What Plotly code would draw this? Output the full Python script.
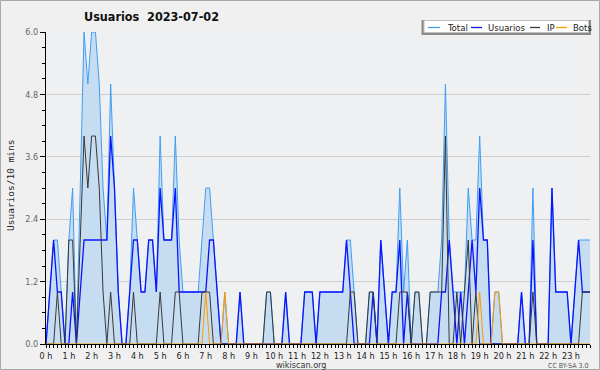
import plotly.graph_objects as go

# ---- data (10-minute slots, 144 per day) ----
total = [0,1,2,2,1,0,2,3,0,3,6,5,
         6,6,5,3,2,5,3,1,0,0,1,3,
         2,1,1,2,2,1,4,2,2,2,4,2,
         1,1,1,1,1,2,3,3,2,1,0,1,
         0,0,0,1,0,0,0,0,0,0,1,1,
         0,0,0,1,0,0,0,0,1,1,1,0,
         1,1,1,1,1,1,1,2,2,1,0,0,
         0,1,1,0,2,1,0,1,1,3,1,2,
         0,1,1,0,0,1,1,1,2,5,2,1,
         1,1,1,3,2,2,4,2,2,0,1,1,
         0,0,0,0,0,1,0,0,3,0,0,0,
         0,3,1,1,1,1,0,1,2,2,2,2]
usuarios = [0,1,2,1,1,0,0,1,0,1,2,2,
            2,2,2,2,2,4,3,1,0,0,1,2,
            2,1,1,2,2,1,3,2,2,2,3,1,
            1,1,1,1,1,1,1,2,2,1,0,0,
            0,0,0,1,0,0,0,0,0,0,0,0,
            0,0,0,1,0,0,0,0,1,1,1,0,
            1,1,1,1,1,1,1,2,1,0,0,0,
            0,0,1,0,2,1,0,1,1,2,0,1,
            0,0,0,0,0,0,0,0,1,1,2,1,
            0,1,0,1,2,1,3,2,2,0,0,0,
            0,0,0,0,0,1,0,0,2,0,0,0,
            0,3,1,1,1,1,0,1,2,1,1,1]
ip = [0,0,0,1,0,0,2,2,0,2,4,3,
      4,4,3,1,0,1,0,0,0,0,0,1,
      0,0,0,0,0,0,1,0,0,0,1,1,
      0,0,0,0,0,1,1,1,0,0,0,0,
      0,0,0,0,0,0,0,0,0,0,1,1,
      0,0,0,0,0,0,0,0,0,0,0,0,
      0,0,0,0,0,0,0,0,1,1,0,0,
      0,1,1,0,0,0,0,0,0,1,1,1,
      0,1,1,0,0,1,1,1,1,4,0,0,
      1,0,1,2,0,1,0,0,0,0,0,0,
      0,0,0,0,0,0,0,0,1,0,0,0,
      0,0,0,0,0,0,0,0,0,1,1,1]
bots = [0,0,0,0,0,0,0,0,0,0,0,0,
        0,0,0,0,0,0,0,0,0,0,0,0,
        0,0,0,0,0,0,0,0,0,0,0,0,
        0,0,0,0,0,0,1,0,0,0,0,1,
        0,0,0,0,0,0,0,0,0,0,0,0,
        0,0,0,0,0,0,0,0,0,0,0,0,
        0,0,0,0,0,0,0,0,0,0,0,0,
        0,0,0,0,0,0,0,0,0,0,0,0,
        0,0,0,0,0,0,0,0,0,0,0,0,
        0,0,0,0,0,0,1,0,0,0,1,1,
        0,0,0,0,0,0,0,0,0,0,0,0,
        0,0,0,0,0,0,0,0,0,0,0,0]
hour_labels = ["0 h","1 h","2 h","3 h","4 h","5 h","6 h","7 h","8 h","9 h","10 h","11 h",
               "12 h","13 h","14 h","15 h","16 h","17 h","18 h","19 h","20 h","21 h","22 h","23 h"]
series_names = ["Total", "Usuarios", "IP", "Bots"]
series_colors = ["#3f9ef2", "#0a14ff", "#383838", "#ff9a00"]

slots = list(range(len(total)))
major = [6 * h for h in range(len(hour_labels))]
minor = [s for s in slots if s % 6 != 0]

COND = "DejaVu Sans Condensed, DejaVu Sans"
W, H = 600, 370
L, T, PW, PH = 46, 32, 544, 312
def px(x): return (x - L) / PW
def py(y): return (T + PH - y) / PH

fig = go.Figure()
fig.add_trace(go.Scatter(x=slots, y=total, mode="lines", fill="tozeroy",
                         fillcolor="#c6ddf1", line=dict(color=series_colors[0], width=1),
                         name=series_names[0]))
fig.add_trace(go.Scatter(x=slots, y=usuarios, mode="lines",
                         line=dict(color=series_colors[1], width=1.3), name=series_names[1]))
fig.add_trace(go.Scatter(x=slots, y=ip, mode="lines",
                         line=dict(color=series_colors[2], width=1), name=series_names[2]))
fig.add_trace(go.Scatter(x=slots, y=bots, mode="lines",
                         line=dict(color=series_colors[3], width=1), name=series_names[3]))

shapes = [
    dict(type="rect", xref="paper", yref="paper", x0=px(0.5), x1=px(599.5), y0=py(369.5), y1=py(0.5),
         line=dict(color="#a8a8a8", width=1), fillcolor="rgba(0,0,0,0)", layer="below"),
    dict(type="rect", xref="paper", yref="paper", x0=px(421.5), x1=px(591), y0=py(35), y1=py(20),
         line=dict(width=0), fillcolor="#8a8a8a"),
    dict(type="rect", xref="paper", yref="paper", x0=px(424), x1=px(588.5), y0=py(32.5), y1=py(20.5),
         line=dict(color="#c0c0c0", width=1), fillcolor="white"),
]
annotations = []
leg_lines = [(428, 440), (471, 482), (530, 540), (556, 567)]
leg_text_x = [445, 486, 545, 571]
for (a, b), tx, nm, col in zip(leg_lines, leg_text_x, series_names, series_colors):
    shapes.append(dict(type="line", xref="paper", yref="paper", x0=px(a), x1=px(b),
                       y0=py(27.5), y1=py(27.5), line=dict(color=col, width=1.3)))
    annotations.append(dict(text=nm, xref="paper", yref="paper", x=px(tx), y=py(27.5),
                            xanchor="left", yanchor="middle", showarrow=False,
                            font=dict(family=COND, size=9.5, color="#222")))

annotations += [
    dict(text="<b>Usuarios\u00a0 2023-07-02</b>", xref="paper", yref="paper", x=px(151.5), y=py(17),
         xanchor="center", yanchor="middle", showarrow=False,
         font=dict(family=COND, size=12.5, color="#111")),
    dict(text="Usuarios/10 mins", xref="paper", yref="paper", x=px(10), y=py(185),
         xanchor="center", yanchor="middle", textangle=-90, showarrow=False,
         font=dict(family="DejaVu Sans Mono", size=9.5, color="#222")),
    dict(text="wikiscan.org", xref="paper", yref="paper", x=px(301), y=py(364.5),
         xanchor="center", yanchor="middle", showarrow=False,
         font=dict(family=COND, size=9, color="#333")),
    dict(text="CC BY-SA 3.0", xref="paper", yref="paper", x=px(590), y=py(365.5),
         xanchor="right", yanchor="middle", showarrow=False,
         font=dict(family=COND, size=7, color="#555")),
]

fig.update_layout(
    width=W, height=H, margin=dict(l=L, r=W - L - PW, t=T, b=H - T - PH),
    paper_bgcolor="#f0f0f0", plot_bgcolor="#eef0f2", showlegend=False,
    shapes=shapes, annotations=annotations,
    xaxis=dict(range=[0, len(total) - 1], showgrid=False, zeroline=False, automargin=False,
               showline=True, linecolor="black", linewidth=1,
               tickmode="array", tickvals=major, ticktext=hour_labels,
               ticks="outside", ticklen=3, tickcolor="black", tickwidth=1,
               tickfont=dict(family=COND, size=9, color="#222"),
               minor=dict(tickmode="array", tickvals=minor, ticks="outside",
                          ticklen=3, tickcolor="black", tickwidth=1)),
    yaxis=dict(range=[0, 6], tick0=0, dtick=1.2, tickformat=".1f", zeroline=False, automargin=False,
               showgrid=True, gridcolor="#cfcfcf", gridwidth=1,
               showline=True, linecolor="black", linewidth=1,
               ticks="outside", ticklen=5, tickcolor="black",
               tickfont=dict(family=COND, size=9, color="#666"),
               minor=dict(dtick=0.3, ticks="outside", ticklen=3, tickcolor="black",
                          showgrid=False)),
)

fig.write_html("out.html", config={"displayModeBar": False},
               post_script="document.body.style.margin='0px';document.body.style.overflow='hidden';")
